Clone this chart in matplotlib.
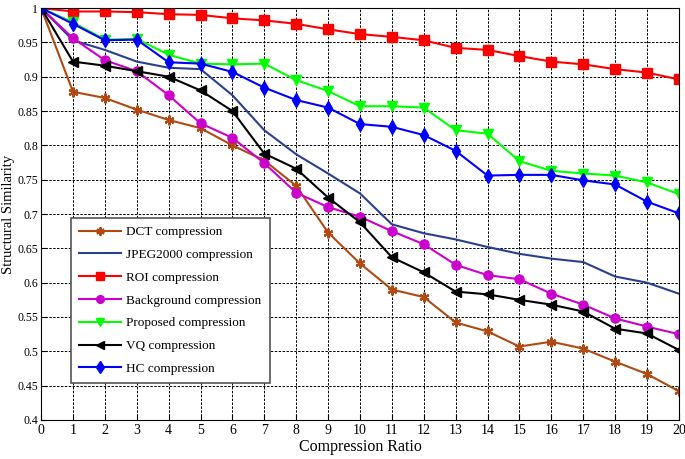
import numpy as np
import matplotlib.pyplot as plt

plt.rcParams['font.family'] = ['Liberation Serif', 'DejaVu Serif']

ratio = list(range(21))

dct = [1, 0.878, 0.869, 0.852, 0.837, 0.825, 0.800, 0.778, 0.741, 0.673, 0.628,
       0.590, 0.579, 0.542, 0.529, 0.507, 0.514, 0.504, 0.485, 0.467, 0.442]
jpeg2000 = [1, 0.953, 0.939, 0.922, 0.913, 0.911, 0.873, 0.822, 0.787, 0.759, 0.730,
            0.685, 0.672, 0.663, 0.652, 0.642, 0.635, 0.630, 0.609, 0.600, 0.584]
roi = [1, 0.995, 0.995, 0.994, 0.991, 0.990, 0.985, 0.982, 0.977, 0.969, 0.962,
       0.958, 0.953, 0.942, 0.939, 0.930, 0.922, 0.918, 0.911, 0.906, 0.896]
background = [1, 0.956, 0.924, 0.908, 0.873, 0.832, 0.811, 0.774, 0.731, 0.710, 0.696,
              0.675, 0.656, 0.626, 0.611, 0.605, 0.584, 0.568, 0.548, 0.536, 0.525]
proposed = [1, 0.979, 0.954, 0.955, 0.932, 0.919, 0.918, 0.919, 0.895, 0.879, 0.857,
            0.857, 0.855, 0.822, 0.817, 0.777, 0.763, 0.759, 0.756, 0.746, 0.729]
vq = [1, 0.922, 0.916, 0.908, 0.900, 0.880, 0.850, 0.788, 0.766, 0.724, 0.688,
      0.637, 0.615, 0.587, 0.583, 0.575, 0.568, 0.558, 0.533, 0.526, 0.502]
hc = [1, 0.977, 0.953, 0.954, 0.921, 0.919, 0.907, 0.884, 0.866, 0.855, 0.831,
      0.827, 0.815, 0.792, 0.756, 0.757, 0.757, 0.749, 0.743, 0.718, 0.701]

fig = plt.figure(figsize=(6.85, 4.59), dpi=100)
ax = fig.add_axes([0.06, 0.085, 0.931, 0.8975])

lw = 1.5
ax.plot(ratio, dct, color='#b04a12', marker=(6, 2, 0), ms=7, mew=1.6, lw=lw, label='DCT compression')
ax.plot(ratio, jpeg2000, color='#2b3f8f', lw=lw, label='JPEG2000 compression')
ax.plot(ratio, roi, color='#ff0000', marker='s', ms=6.5, lw=lw, label='ROI compression')
ax.plot(ratio, background, color='#cc00cc', marker='o', ms=6.5, lw=lw, label='Background compression')
ax.plot(ratio, proposed, color='#00ff00', marker='v', ms=7, lw=lw, label='Proposed compression')
ax.plot(ratio, vq, color='#000000', marker='<', ms=7, lw=lw, label='VQ compression')
ax.plot(ratio, hc, color='#0000ff', marker='d', ms=7, lw=lw, label='HC compression')

ax.set_xlim(0, 20)
ax.set_ylim(0.4, 1.0)
ax.set_xticks(range(21))
yt = np.arange(0.4, 1.0001, 0.05)
ax.set_yticks(yt)
ax.set_yticklabels(['%g' % round(v, 2) for v in yt])
ax.tick_params(direction='in', length=4)
ax.tick_params(axis='x', labelsize=10, pad=3)
ax.tick_params(axis='y', labelsize=8.5, pad=2)
ax.grid(True, color='black', linestyle=(0, (2.5, 1.5)), linewidth=0.7)
ax.set_xlabel('Compression Ratio', fontsize=11.5, labelpad=1)
ax.set_ylabel('Structural Similarity', fontsize=10.5)
ax.yaxis.set_label_coords(-0.0415, 0.5)

leg = ax.legend(loc='lower left', bbox_to_anchor=(0.047, 0.09), borderaxespad=0,
                fontsize=9.5, fancybox=False, framealpha=1, edgecolor='#555555',
                handlelength=3.2, labelspacing=0.8, borderpad=0.6, handletextpad=0.4,
                markerscale=0.85)
leg.get_frame().set_linewidth(1.2)

fig.savefig('out.png', dpi=100)
